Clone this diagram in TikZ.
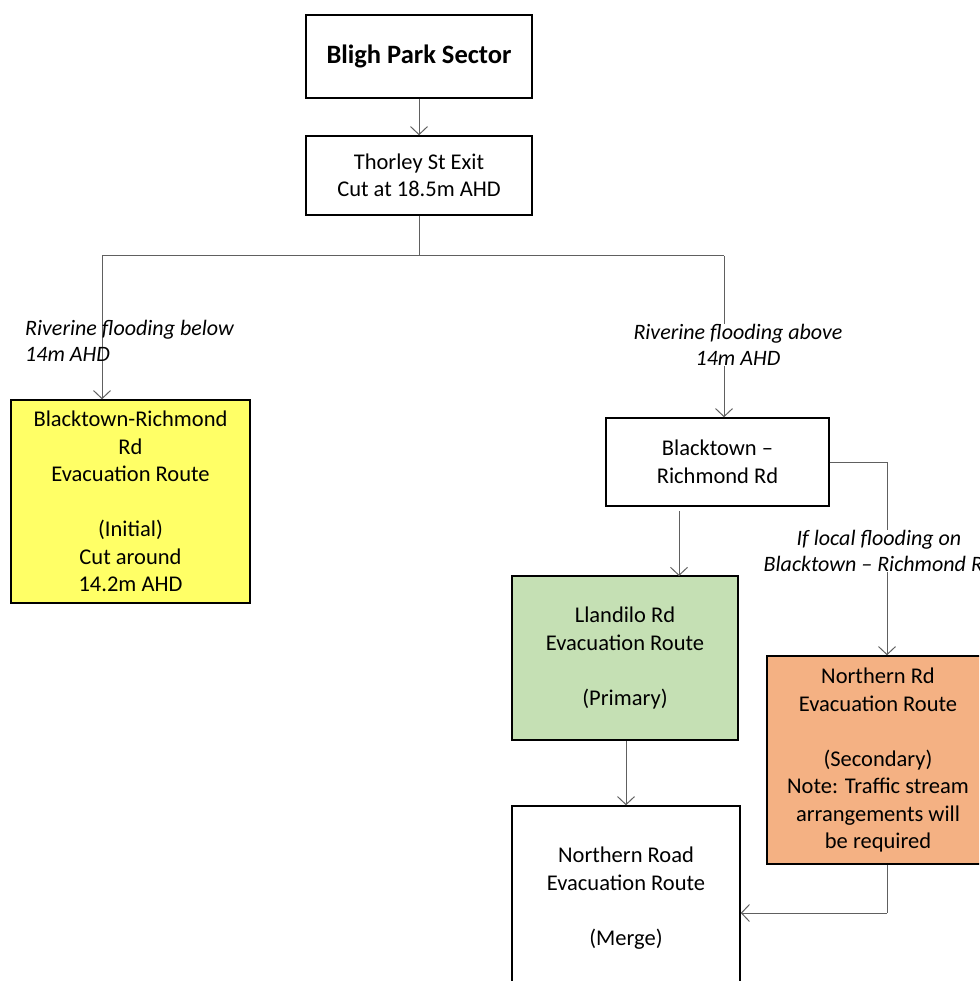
\documentclass[tikz,border=0pt]{standalone}
\usepackage{fontspec}
\setmainfont{Carlito}
\usetikzlibrary{arrows.meta}
\definecolor{boxyellow}{HTML}{FFFF66}
\definecolor{boxgreen}{HTML}{C5E0B4}
\definecolor{boxorange}{HTML}{F4B183}
\definecolor{conngray}{HTML}{606060}
\begin{document}
\begin{tikzpicture}[x=1pt,y=-1pt,
  box/.style={draw=black, line width=1.5pt, align=center, inner sep=0pt,
    font=\fontsize{22.5}{27.5}\selectfont},
  lbl/.style={font=\fontsize{22}{25.5}\selectfont\itshape, inner sep=1pt},
  conn/.style={draw=conngray, line width=1pt},
  arr/.style={conn, -{Straight Barb[length=8pt,width=17pt]}}]
\useasboundingbox (0,0) rectangle (979,981);
\clip (0,0) rectangle (979,981);
\fill[white] (0,0) rectangle (979,981);

% boxes
\node[box, minimum width=226pt, minimum height=83pt, font=\fontsize{26.5}{30}\selectfont\bfseries]
  (bligh) at (419,56.5) {Bligh Park Sector};
\node[box, minimum width=226pt, minimum height=79pt] (thorley) at (419,175.5)
  {Thorley St Exit\\Cut at 18.5m AHD};
\node[box, fill=boxyellow, minimum width=239pt, minimum height=203pt] (brrd) at (130.5,501.5)
  {Blacktown-Richmond\\Rd\\Evacuation Route\\[27.5pt](Initial)\\Cut around\\14.2m AHD};
\node[box, minimum width=223pt, minimum height=88pt] (btrr) at (717.5,462)
  {Blacktown --\\Richmond Rd};
\node[box, fill=boxgreen, minimum width=226pt, minimum height=164pt] (llan) at (625,658)
  {Llandilo Rd\\Evacuation Route\\[27.5pt](Primary)};
\node[box, minimum width=228pt, minimum height=184pt] (nroad) at (626,898)
  {Northern Road\\Evacuation Route\\[27.5pt](Merge)};
\node[box, fill=boxorange, minimum width=222pt, minimum height=208pt] (nrd) at (878,760)
  {Northern Rd\\Evacuation Route\\[27.5pt](Secondary)\\Note: Traffic stream\\arrangements will\\be required};

% junction and corner coordinates
\coordinate (j) at (419,256);
\coordinate (jl) at (102,256);
\coordinate (jr) at (724,256);
\coordinate (bc) at (887,462);
\coordinate (oc) at (887,913);

% connectors
\draw[arr] (bligh.south) -- (thorley.north);
\draw[conn] (thorley.south) -- (j);
\draw[conn] (jl) -- (jr);
\draw[arr] (jl) -- (jl |- brrd.north);
\draw[arr] (jr) -- (jr |- btrr.north);
\draw[conn] (btrr.east) -- (bc);
\draw[arr] (bc) -- (bc |- nrd.north);
\draw[arr, shorten <=5pt] (679,506) -- (679,576);
\draw[arr] (llan.south -| nroad.north) -- (nroad.north);
\draw[conn] (nrd.south -| oc) -- (oc);
\draw[arr] (oc) -- (oc -| nroad.east);

% labels
\node[lbl, align=left, anchor=west] (lbelow) at (24,341)
  {Riverine flooding below\\14m AHD};
\node[lbl, align=center, fill=white] (labove) at (738,345)
  {Riverine flooding above\\14m AHD};
\node[lbl, align=center, fill=white] (llocal) at (879,551)
  {If local flooding on\\Blacktown -- Richmond Rd};
\end{tikzpicture}
\end{document}
